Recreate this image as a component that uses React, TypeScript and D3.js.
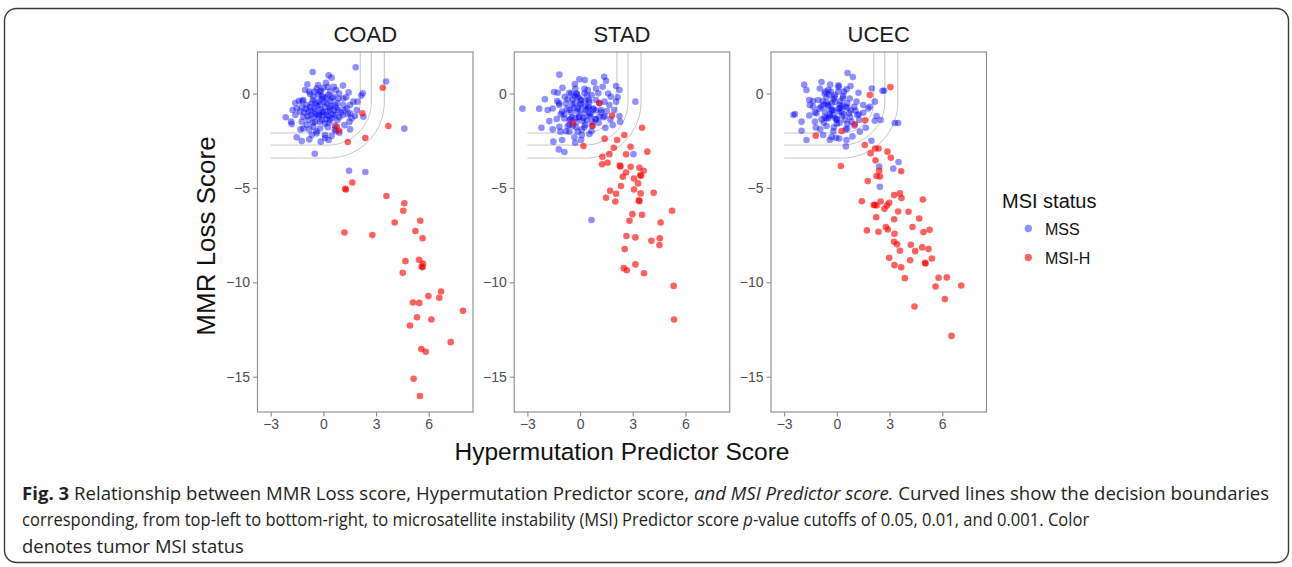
import { useEffect, useRef } from 'react';
import * as d3 from 'd3';

type Pt = [number, number];

const PANELS = ['COAD', 'STAD', 'UCEC'];
const X_TICKS = [-3, 0, 3, 6];
const Y_TICKS = [0, -5, -10, -15];
const X_DOMAIN: [number, number] = [-3.75, 8.52];
const Y_DOMAIN: [number, number] = [-16.87, 2.2];

// decision boundaries (p = 0.05, 0.01, 0.001): vertical edge x, horizontal edge y, shared corner centre
const BOUND_X = [2.1, 2.73, 3.47];
const BOUND_Y = [-2.09, -2.73, -3.42];
const BOUND_CENTER: Pt = [0.28, -0.45];
const BOUND_LEFT = -3;

const COAD_MSS: Pt[] = [
  [-0.61, 1.14], [0.30, 0.96], [0.47, 0.84], [-0.91, 0.49], [0.15, 0.57], [1.12, 0.42], [-0.38, 0.27], [-0.13, 0.15],
  [-1.04, 0.19], [0.38, 0.10], [0.72, 0.19], [1.44, 0.06], [2.24, 0.01], [2.16, -0.11], [-0.76, -0.03], [-1.39, -0.38],
  [-1.14, -0.34], [-0.57, -0.17], [-0.09, -0.13], [0.28, -0.08], [0.57, -0.17], [0.85, -0.26], [1.14, -0.26], [1.71, -0.43],
  [1.94, -0.43], [1.52, -0.61], [1.14, -0.61], [0.66, -0.61], [0.19, -0.52], [-0.28, -0.43], [-0.66, -0.52], [-0.95, -0.61],
  [-1.23, -0.70], [-1.52, -0.79], [-1.75, -0.87], [-1.33, -0.96], [-0.85, -0.96], [-0.47, -0.96], [-0.09, -0.96], [0.38, -0.87],
  [0.85, -0.87], [1.33, -0.79], [1.90, -0.87], [1.52, -1.05], [1.10, -1.14], [0.66, -1.14], [0.19, -1.14], [-0.28, -1.14],
  [-0.70, -1.14], [-1.14, -1.23], [-1.59, -1.14], [-2.14, -1.26], [-1.84, -1.49], [-1.23, -1.49], [-0.85, -1.40], [-0.47, -1.49],
  [-0.09, -1.40], [0.38, -1.40], [0.80, -1.40], [1.48, -1.49], [1.80, -1.19], [2.28, -1.23], [-0.95, -1.67], [-0.57, -1.76],
  [-0.19, -1.85], [0.25, -1.79], [0.66, -1.70], [1.20, -1.67], [1.52, -1.90], [-1.14, -1.85], [-1.80, -1.62], [-1.52, -2.32],
  [-1.23, -2.52], [-0.80, -2.43], [-0.66, -2.20], [-0.38, -2.11], [0.09, -2.20], [0.47, -2.25], [0.91, -2.08], [-0.15, -2.55],
  [0.30, -2.46], [-0.2, -0.6], [0.1, -0.7], [0.4, -0.4], [-0.5, -0.8], [0.0, -1.0], [0.3, -1.2], [-0.4, -1.1], [0.6, -0.9],
  [-0.1, -0.3], [0.2, -0.2], [-0.7, -0.9], [0.5, -1.3], [-0.2, -1.5], [0.1, -1.6], [-0.9, -1.2], [0.8, -0.5], [-0.6, -0.35],
  [1.0, -1.0], [-1.0, -0.8], [0.0, 0.3], [-0.3, 0.45], [0.6, 0.35], [1.3, -0.2], [-1.6, -0.5], [-0.8, 0.1], [0.9, 0.0],
  [1.6, -1.3], [-1.3, -1.9], [0.7, -2.0], [-0.4, -2.0], [1.84, 1.39], [3.57, 0.64], [4.61, -1.86], [-0.49, -3.19],
  [1.46, -4.09], [2.39, -4.16], [-0.35, -0.65], [0.05, -0.45], [0.45, -0.65], [-0.15, -0.85], [0.25, -0.95], [-0.55, -1.25],
  [0.15, -1.35], [-0.25, -1.2], [0.55, -1.1], [-0.45, -0.5], [0.35, -0.75], [-0.05, -1.15], [0.75, -0.75], [-0.75, -0.7],
  [0.0, -0.2], [-0.3, -0.05], [0.5, -0.25], [-0.6, -1.55], [0.3, -1.55], [0.9, -1.25], [-1.1, -1.0], [-0.2, 0.1],
  [0.25, 0.35], [1.2, -0.9], [-1.2, -0.4], [0.65, -1.9], [-0.8, -1.9], [1.4, -1.1], [-0.5, 0.1], [0.1, -2.35],
];
const COAD_MSIH: Pt[] = [
  [3.38, 0.31], [3.70, -1.72], [2.39, -2.36], [1.39, -2.57], [2.22, -1.05], [0.76, -1.76], [0.89, -1.97], [1.65, -4.71],
  [1.25, -5.04], [1.28, -5.08], [3.59, -5.43], [4.61, -5.81], [4.55, -6.21], [5.52, -6.74], [4.06, -6.83], [5.24, -7.28],
  [1.20, -7.36], [2.79, -7.50], [5.65, -7.67], [4.67, -8.88], [5.45, -8.81], [5.67, -9.00], [5.60, -9.16], [5.65, -9.20],
  [4.52, -9.50], [6.70, -10.49], [5.98, -10.73], [6.60, -10.82], [5.10, -11.07], [5.46, -11.09], [7.95, -11.51], [5.33, -11.85],
  [6.15, -11.97], [4.93, -12.29], [7.25, -13.17], [5.58, -13.53], [5.83, -13.68], [5.14, -15.11], [5.50, -16.02],
];

const STAD_MSS: Pt[] = [
  [-1.18, 1.0], [1.37, 0.89], [1.48, 0.68], [3.15, -0.43], [-2.33, -0.80], [-2.20, -1.81], [-3.28, -0.80], [0.65, -6.70],
  [3.04, -3.21], [-1.48, 0.08], [-1.27, 0.04], [-0.04, 0.75], [0.27, 0.72], [-0.27, 0.27], [0.44, 0.19], [0.91, 0.27],
  [1.29, 0.36], [2.05, 0.40], [2.24, 0.19], [1.75, -0.17], [2.14, -0.20], [1.04, 0.01], [0.66, -0.08], [0.25, 0.01],
  [-0.19, -0.03], [-0.61, 0.04], [-0.87, -0.17], [-0.42, -0.31], [0.06, -0.34], [0.53, -0.43], [0.91, -0.34], [1.39, -0.43],
  [1.67, -0.61], [2.05, -0.43], [-1.84, -0.87], [-1.56, -0.79], [-1.18, -0.61], [-0.80, -0.52], [-1.02, -0.96], [-0.61, -0.87],
  [-0.13, -0.79], [0.30, -0.70], [0.76, -0.79], [1.20, -0.87], [1.52, -0.93], [1.95, -0.87], [-1.75, -1.46], [-1.33, -1.35],
  [-0.89, -1.32], [-0.46, -1.26], [-0.04, -1.23], [0.38, -1.40], [0.87, -1.37], [1.33, -1.26], [1.73, -1.37], [2.24, -1.19],
  [2.28, -1.49], [1.44, -1.81], [1.06, -1.55], [0.68, -1.72], [0.25, -1.79], [-0.23, -1.79], [-0.70, -1.72], [-1.18, -1.76],
  [-1.56, -1.90], [-1.12, -2.02], [-0.61, -2.02], [-0.13, -2.02], [0.53, -2.15], [-0.32, -2.32], [0.06, -2.46], [-1.52, -2.55],
  [-1.02, -2.46], [-1.21, -2.96], [-0.89, -3.10], [1.86, -1.67], [-0.28, -2.61], [1.10, -1.23], [0.53, -1.05], [-0.3, -0.5],
  [0.0, -0.9], [0.3, -0.4], [-0.5, -1.0], [0.6, -1.1], [-0.2, -1.5], [0.2, -1.3], [-0.7, -0.3], [0.9, -0.9], [-0.1, -0.2],
  [0.4, -0.1], [-0.9, -1.1], [0.1, -1.9], [-0.4, -1.7], [1.1, -0.5], [-1.3, -0.4], [0.7, -1.5], [-0.6, -1.4], [0.0, -0.6],
  [0.5, -0.7], [-0.3, 0.5], [1.6, 0.0], [-2.0, -0.3], [0.8, 0.6], [-1.0, 0.3], [-0.35, -0.75], [0.05, -0.55], [0.45, -0.75],
  [-0.15, -0.95], [0.25, -1.05], [-0.55, -1.35], [0.15, -1.45], [-0.25, -1.3], [0.55, -1.2], [-0.45, -0.6], [0.35, -0.85],
  [-0.05, -1.25], [0.75, -0.85], [-0.75, -0.8], [0.0, -0.3], [-0.3, -0.15], [0.5, -0.35], [-0.6, -1.65], [0.3, -1.65],
  [0.9, -1.35], [-1.1, -1.1], [-0.2, 0.0], [0.25, 0.25], [1.2, -1.0], [-1.2, -0.5], [0.65, -2.0], [-0.8, -2.0], [1.4, -1.2],
  [-0.5, 0.0], [0.1, -2.2],
];
const STAD_MSIH: Pt[] = [
  [1.10, -0.52], [1.82, -1.16], [-0.42, -1.58], [0.72, -1.70], [0.19, -2.78], [3.53, -1.81], [2.52, -2.20], [2.11, -2.46],
  [1.40, -2.39], [1.92, -2.87], [2.88, -2.82], [1.67, -3.21], [2.62, -3.22], [3.83, -3.08], [1.27, -3.35], [1.57, -3.67],
  [1.25, -3.75], [2.26, -3.82], [2.30, -3.86], [2.88, -3.88], [3.38, -3.93], [3.62, -4.09], [2.62, -4.18], [2.43, -4.41],
  [3.07, -4.50], [3.43, -4.32], [3.47, -4.36], [3.30, -4.76], [2.33, -4.90], [3.07, -5.08], [4.19, -5.26], [3.45, -5.29],
  [1.71, -5.15], [2.05, -5.31], [1.48, -5.52], [2.01, -5.72], [3.34, -5.66], [3.38, -5.70], [5.24, -6.21], [2.98, -6.39],
  [3.53, -6.42], [2.81, -6.74], [4.59, -6.83], [2.64, -7.55], [3.15, -7.62], [4.06, -7.80], [4.54, -7.67], [4.52, -8.03],
  [2.54, -8.24], [2.49, -9.25], [2.66, -9.36], [3.15, -9.05], [3.64, -9.52], [5.33, -10.19], [5.35, -11.97],
];

const UCEC_MSS: Pt[] = [
  [0.61, 1.09], [0.91, 0.87], [-1.86, 0.47], [-0.87, 0.61], [-0.38, 0.47], [0.09, 0.43], [0.78, 0.40], [-1.73, 0.19],
  [1.99, 0.27], [2.60, 0.15], [2.69, 0.15], [1.23, 0.04], [-1.57, -0.34], [-2.39, -1.09], [-2.47, -1.14], [-2.01, -1.49],
  [-1.57, -1.16], [-1.73, -2.46], [-2.01, -1.97], [2.26, -1.19], [2.16, -1.44], [2.49, -1.40], [3.30, -1.56], [3.49, -1.56],
  [1.65, -1.81], [0.89, -2.27], [0.51, -2.80], [1.97, -2.50], [3.51, -3.63], [2.41, -3.87], [3.21, -3.98], [2.45, -4.94],
  [-1.06, -0.34], [-0.59, -0.20], [-0.11, -0.08], [0.36, -0.13], [0.74, -0.26], [1.12, -0.43], [1.50, -0.61], [1.78, -0.79],
  [-0.78, -0.61], [-0.30, -0.52], [0.17, -0.61], [0.59, -0.52], [0.99, -0.70], [-1.35, -0.70], [-1.16, -1.05], [-0.68, -0.96],
  [-0.21, -0.87], [0.27, -0.96], [0.70, -1.05], [1.16, -1.14], [1.50, -1.02], [-0.87, -1.37], [-0.49, -1.32], [-0.02, -1.40],
  [0.46, -1.40], [0.83, -1.49], [1.27, -1.40], [-1.25, -1.49], [-0.59, -1.72], [-0.17, -1.79], [0.59, -1.85], [1.31, -2.02],
  [-0.78, -2.20], [-0.30, -2.29], [0.13, -2.38], [0.55, -2.46], [-0.40, -2.46], [1.88, -0.70], [2.16, -0.43], [0.08, 0.10],
  [-0.49, 0.19], [0.55, 0.22], [-0.97, 0.27], [-1.54, -0.61], [-0.5, -0.6], [-0.2, -0.3], [0.1, -0.8], [0.3, -1.2],
  [-0.4, -1.1], [0.0, -1.6], [-0.8, -0.4], [0.5, -0.7], [-0.1, -1.3], [0.2, -0.4], [-0.6, -1.3], [0.6, -1.6], [-0.3, -0.9],
  [-1.0, -0.8], [0.8, -0.9], [-0.7, 0.0], [0.4, 0.1], [1.0, -1.7], [-0.2, -2.0], [-1.2, -1.8], [-0.5, -0.65], [-0.1, -0.45],
  [0.3, -0.65], [-0.3, -0.85], [0.1, -0.95], [-0.7, -1.25], [0.0, -1.35], [-0.4, -1.2], [0.4, -1.1], [-0.6, -0.5],
  [0.2, -0.75], [-0.2, -1.15], [0.6, -0.75], [-0.9, -0.7], [-0.15, -0.2], [-0.45, -0.05], [0.35, -0.25], [-0.75, -1.55],
  [0.15, -1.55], [0.75, -1.25], [-1.25, -1.0], [-0.35, 0.1], [0.1, 0.35], [1.05, -0.9], [-1.35, -0.4], [0.5, -1.9],
  [-0.95, -1.9], [1.25, -1.1], [-0.65, 0.1], [-0.05, -2.35],
];
const UCEC_MSIH: Pt[] = [
  [3.05, 0.34], [1.88, -0.08], [-1.20, -2.23], [0.27, -1.99], [1.02, -1.63], [1.61, -1.42], [1.59, -2.73], [2.18, -2.91],
  [2.37, -2.91], [1.92, -3.17], [2.88, -3.08], [3.07, -3.40], [2.20, -3.54], [0.23, -3.84], [2.41, -4.09], [3.66, -4.12],
  [2.26, -4.37], [2.45, -4.40], [1.76, -4.64], [3.26, -5.38], [3.59, -5.29], [3.68, -5.54], [4.90, -5.61], [1.42, -5.71],
  [2.16, -5.89], [2.26, -5.93], [2.10, -5.91], [2.49, -5.72], [2.98, -5.79], [2.85, -5.93], [2.71, -6.11], [3.49, -6.25],
  [4.08, -6.26], [2.24, -6.55], [3.26, -6.66], [4.69, -6.62], [1.71, -7.25], [2.37, -7.32], [2.79, -7.07], [2.90, -7.20],
  [3.28, -7.43], [4.31, -7.07], [4.93, -7.34], [5.28, -7.22], [3.26, -7.85], [3.43, -7.99], [4.21, -8.01], [4.46, -8.35],
  [3.59, -8.33], [4.86, -8.15], [5.22, -8.24], [5.41, -8.74], [2.98, -8.70], [4.17, -8.83], [3.28, -9.09], [3.66, -9.21],
  [5.02, -8.97], [5.05, -9.00], [3.87, -9.78], [5.79, -9.76], [6.26, -9.74], [5.62, -10.22], [7.08, -10.17], [6.15, -10.89],
  [4.42, -11.28], [6.53, -12.84],
];

const MSS_BY_PANEL = [COAD_MSS, STAD_MSS, UCEC_MSS];
const MSIH_BY_PANEL = [COAD_MSIH, STAD_MSIH, UCEC_MSIH];

const LEGEND = [
  { label: 'MSS', color: '#0000ff', opacity: 0.44 },
  { label: 'MSI-H', color: '#ff0000', opacity: 0.62 },
];

export default function App() {
  const svgRef = useRef<SVGSVGElement>(null);

  useEffect(() => {
    const svg = d3.select(svgRef.current!);
    svg.selectAll('*').remove();

    const font = '"Liberation Sans", Arial, Helvetica, sans-serif';
    const top = 52, bottom = 412, panelW = 215.5;
    const lefts = [257.5, 514.2, 771];
    const axisGray = '#8a8a8a';

    svg.append('rect').attr('x', 4.5).attr('y', 8.5).attr('width', 1284).attr('height', 554)
      .attr('rx', 12).attr('fill', 'white').attr('stroke', '#3a3a3a').attr('stroke-width', 1.4);

    PANELS.forEach((name, i) => {
      const left = lefts[i];
      const x = d3.scaleLinear().domain(X_DOMAIN).range([left, left + panelW]);
      const y = d3.scaleLinear().domain(Y_DOMAIN).range([bottom, top]);
      const g = svg.append('g');

      const clipId = `clip-${name}`;
      g.append('clipPath').attr('id', clipId).append('rect')
        .attr('x', left).attr('y', top).attr('width', panelW).attr('height', bottom - top);

      // decision boundary curves
      const line = d3.line<Pt>().x((d) => x(d[0])).y((d) => y(d[1]));
      const [cx, cy] = BOUND_CENTER;
      BOUND_X.forEach((bx, k) => {
        const by = BOUND_Y[k];
        const pts: Pt[] = [[bx, Y_DOMAIN[1]], [bx, cy]];
        for (let a = 0; a <= 90; a += 3) {
          const t = (a * Math.PI) / 180;
          pts.push([cx + (bx - cx) * Math.cos(t), cy - (cy - by) * Math.sin(t)]);
        }
        pts.push([BOUND_LEFT, by]);
        g.append('path').attr('d', line(pts)!).attr('fill', 'none')
          .attr('stroke', '#c4c4c4').attr('stroke-width', 1).attr('clip-path', `url(#${clipId})`);
      });

      const pointsG = g.append('g').attr('clip-path', `url(#${clipId})`);
      pointsG.selectAll('.mss').data(MSS_BY_PANEL[i]).join('circle')
        .attr('cx', (d) => x(d[0])).attr('cy', (d) => y(d[1])).attr('r', 3.3)
        .attr('fill', LEGEND[0].color).attr('fill-opacity', LEGEND[0].opacity);
      pointsG.selectAll('.msih').data(MSIH_BY_PANEL[i]).join('circle')
        .attr('cx', (d) => x(d[0])).attr('cy', (d) => y(d[1])).attr('r', 3.3)
        .attr('fill', LEGEND[1].color).attr('fill-opacity', LEGEND[1].opacity);

      g.append('rect').attr('x', left).attr('y', top).attr('width', panelW).attr('height', bottom - top)
        .attr('fill', 'none').attr('stroke', axisGray).attr('stroke-width', 1.1);

      const xAxis = g.append('g').attr('transform', `translate(0,${bottom})`)
        .call(d3.axisBottom(x).tickValues(X_TICKS).tickSize(4.5).tickPadding(3).tickFormat(d3.format('d')));
      xAxis.select('.domain').remove();
      xAxis.selectAll('line').attr('stroke', axisGray).attr('stroke-width', 1.1);
      xAxis.selectAll('text').attr('fill', '#4d4d4d').attr('font-size', 14).attr('font-family', font);

      const yAxis = g.append('g').attr('transform', `translate(${left},0)`)
        .call(d3.axisLeft(y).tickValues(Y_TICKS).tickSize(4.5).tickPadding(3).tickFormat(d3.format('d')));
      yAxis.select('.domain').remove();
      yAxis.selectAll('line').attr('stroke', axisGray).attr('stroke-width', 1.1);
      yAxis.selectAll('text').attr('fill', '#4d4d4d').attr('font-size', 14).attr('font-family', font);

      g.append('text').attr('x', left + panelW / 2).attr('y', 41.7).attr('text-anchor', 'middle')
        .attr('font-family', font).attr('font-size', 22).attr('fill', '#1a1a1a').text(name);
    });

    svg.append('text').attr('transform', 'translate(215,236) rotate(-90)').attr('text-anchor', 'middle')
      .attr('font-family', font).attr('font-size', 26).attr('fill', '#111').text('MMR Loss Score');
    svg.append('text').attr('x', 622).attr('y', 459.5).attr('text-anchor', 'middle')
      .attr('font-family', font).attr('font-size', 24.5).attr('fill', '#111').text('Hypermutation Predictor Score');

    // legend
    svg.append('text').attr('x', 1002).attr('y', 207.5).attr('font-family', font).attr('font-size', 20)
      .attr('fill', '#111').text('MSI status');
    LEGEND.forEach((l, k) => {
      const yy = 228.5 + k * 29;
      svg.append('circle').attr('cx', 1028.3).attr('cy', yy).attr('r', 3.7)
        .attr('fill', l.color).attr('fill-opacity', l.opacity);
      svg.append('text').attr('x', 1045).attr('y', yy + 6).attr('font-family', font).attr('font-size', 16)
        .attr('fill', '#111').text(l.label);
    });

    // caption: same font size on every line, each line squeezed horizontally to the reference width
    const capFont = '"Liberation Sans Narrow", "Open Sans", "Liberation Sans", sans-serif';
    const cap = (yy: number, width: number, parts: { t: string; b?: boolean; i?: boolean }[]) => {
      const holder = svg.append('g');
      const el = holder.append('text').attr('x', 0).attr('y', 0)
        .attr('font-family', capFont).attr('font-size', 18).attr('fill', '#231f20');
      parts.forEach((p) => {
        const ts = el.append('tspan').text(p.t);
        if (p.b) ts.attr('font-weight', 'bold');
        if (p.i) ts.attr('font-style', 'italic');
      });
      const len = (el.node() as SVGTextElement).getComputedTextLength();
      const sx = len > 0 ? Math.min(1.05, width / len) : 1;
      holder.attr('transform', `translate(22,${yy}) scale(${sx},1)`);
    };
    cap(499.5, 1248, [
      { t: 'Fig. 3', b: true },
      { t: ' Relationship between MMR Loss score, Hypermutation Predictor score, ' },
      { t: 'and MSI Predictor score.', i: true },
      { t: ' Curved lines show the decision boundaries' },
    ]);
    cap(526, 1068, [
      { t: 'corresponding, from top-left to bottom-right, to microsatellite instability (MSI) Predictor score ' },
      { t: 'p', i: true },
      { t: '-value cutoffs of 0.05, 0.01, and 0.001. Color' },
    ]);
    cap(552.5, 222, [{ t: 'denotes tumor MSI status' }]);
  }, []);

  return (
    <div style={{ position: 'fixed', left: 0, top: 0, width: 1292, height: 567, background: 'white' }}>
      <svg ref={svgRef} width={1292} height={567} style={{ display: 'block' }} />
    </div>
  );
}
